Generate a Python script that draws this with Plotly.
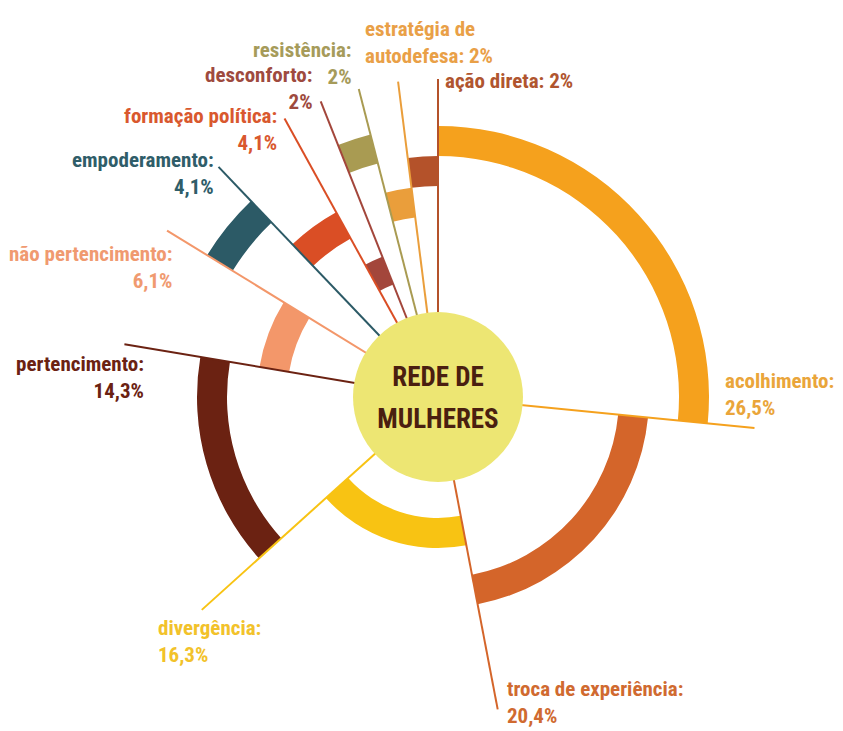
import math
import plotly.graph_objects as go

# ---------------- data ----------------
categories = ["acolhimento", "troca de experiência", "divergência", "pertencimento",
              "não pertencimento", "empoderamento", "formação política", "desconforto",
              "resistência", "estratégia de autodefesa", "ação direta"]
percent = [26.5, 20.4, 16.3, 14.3, 6.1, 4.1, 4.1, 2, 2, 2, 2]
ring = [5, 3, 1, 4, 2, 5, 3, 1, 5, 3, 4]          # which concentric ring holds the arc
label_text = ["acolhimento:<br>26,5%", "troca de experiência:<br>20,4%",
              "divergência:<br>16,3%", "pertencimento:<br>14,3%",
              "não pertencimento:<br>6,1%", "empoderamento:<br>4,1%",
              "formação política:<br>4,1%", "desconforto:<br>2%",
              "resistência:<br>2%", "estratégia de<br>autodefesa: 2%",
              "ação direta: 2%"]
center_lines = ["REDE DE", "MULHERES"]

# ---------------- styles ----------------
colors = ["#F5A11D", "#D4652A", "#F8C313", "#6B2212", "#F3976A", "#2C5A66",
          "#DA4E25", "#A3463B", "#A99B52", "#EA9E3B", "#B4522A"]
text_colors = ["#EAA53A", "#D06A30", "#F2C22A", "#6B2212", "#F09A70", "#2F5D69",
               "#D9582E", "#9E4A3E", "#A69B5A", "#E9A047", "#B0552F"]
# label placement relative to the line end (screen px) and anchor side
label_dx = [-31, 7, -46, 22, 8, -3, -6, -6, -5, -35, 5]
label_dy = [-33, -7, 32, 33, 37, 7, 11, -13, -26, -39, 2]
label_side = ["left", "left", "left", "right", "right", "right", "right", "right",
              "right", "left", "left"]

FONT = "Liberation Sans Narrow, Roboto Condensed, DejaVu Sans Condensed, Arial Narrow, sans-serif"
W, H = 835, 723
CX, CY, RPX = 430, 389, 320      # polar centre and pixel radius (figure coords; page adds 8px margin)
RMAX = 320
RING0, RING_W = 121, 30
LINE_R = 318

# ---------------- geometry from data ----------------
total = sum(percent)
ends, mids, widths = [], [], []
acc = 0.0
for p in percent:
    start = acc / total * 360
    acc += p
    end = acc / total * 360
    ends.append(end)
    mids.append((start + end) / 2)
    widths.append(end - start)
bases = [RING0 + RING_W * (k - 1) for k in ring]

fig = go.Figure()

# separator / leader lines
for i, c in enumerate(categories):
    fig.add_trace(go.Scatterpolar(
        r=[0, LINE_R], theta=[ends[i], ends[i]], mode="lines",
        line=dict(color=colors[i], width=2), hoverinfo="skip", showlegend=False))

# arcs
fig.add_trace(go.Barpolar(
    r=[RING_W] * len(categories), base=bases, theta=mids, width=widths,
    marker=dict(color=colors, line=dict(width=0)),
    hovertext=categories, hoverinfo="text", showlegend=False))

# centre disc
fig.add_trace(go.Scatterpolar(
    r=[0], theta=[0], mode="markers",
    marker=dict(size=170, color="#EDE673", line=dict(width=0)),
    hoverinfo="skip", showlegend=False))
fig.add_trace(go.Scatterpolar(
    r=[0, 0], theta=[0, 0], mode="markers+text",
    marker=dict(size=[6, 16], color="rgba(0,0,0,0)", line=dict(width=0)),
    text=center_lines, textposition=["top center", "bottom center"],
    textfont=dict(family=FONT, size=27, color="#4A1F10", weight="bold"),
    hoverinfo="skip", showlegend=False))

dom_x = [(CX - RPX) / W, (CX + RPX) / W]
dom_y = [1 - (CY + RPX) / H, 1 - (CY - RPX) / H]

annotations = []
for i in range(len(categories)):
    th = math.radians(ends[i])
    px = CX + LINE_R / RMAX * RPX * math.sin(th) + label_dx[i]
    py = CY - LINE_R / RMAX * RPX * math.cos(th) + label_dy[i]
    annotations.append(dict(
        x=px / W, y=1 - py / H, xref="paper", yref="paper",
        xanchor=label_side[i], yanchor="middle", align=label_side[i],
        text=label_text[i], showarrow=False,
        font=dict(family=FONT, size=21, color=text_colors[i], weight="bold")))

fig.update_layout(
    width=W, height=H,
    margin=dict(l=0, r=0, t=0, b=0),
    paper_bgcolor="white", plot_bgcolor="white",
    polar=dict(
        domain=dict(x=dom_x, y=dom_y),
        bgcolor="rgba(0,0,0,0)",
        bargap=0,
        radialaxis=dict(range=[0, RMAX], visible=False, showgrid=False),
        angularaxis=dict(direction="clockwise", rotation=90, visible=False,
                         showgrid=False),
    ),
    annotations=annotations,
    showlegend=False,
)

fig.write_html("out.html")
